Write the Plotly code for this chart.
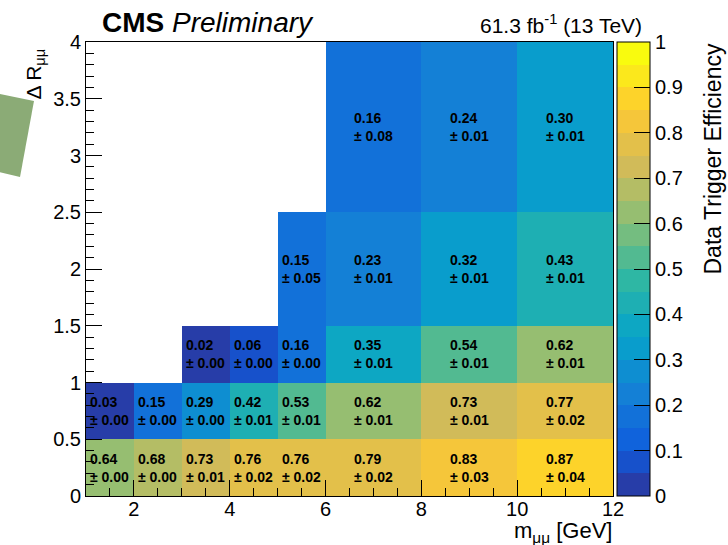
import numpy as np
import plotly.graph_objects as go

# ---- data ----
x_edges = [1, 2, 3, 4, 5, 6, 8, 10, 12]
y_edges = [0, 0.5, 1, 1.5, 2.5, 4]
eff = [
    [0.64, 0.68, 0.73, 0.76, 0.76, 0.79, 0.83, 0.87],
    [0.03, 0.15, 0.29, 0.42, 0.53, 0.62, 0.73, 0.77],
    [None, None, 0.02, 0.06, 0.16, 0.35, 0.54, 0.62],
    [None, None, None, None, 0.15, 0.23, 0.32, 0.43],
    [None, None, None, None, None, 0.16, 0.24, 0.30],
]
err = [
    [0.00, 0.00, 0.01, 0.02, 0.02, 0.02, 0.03, 0.04],
    [0.00, 0.00, 0.00, 0.01, 0.01, 0.01, 0.01, 0.02],
    [None, None, 0.00, 0.00, 0.00, 0.01, 0.01, 0.01],
    [None, None, None, None, 0.05, 0.01, 0.01, 0.01],
    [None, None, None, None, None, 0.08, 0.01, 0.01],
]

# ---- ROOT kBird palette, 20 contour bands ----
stops = [0.0, 0.125, 0.25, 0.375, 0.5, 0.625, 0.75, 0.875, 1.0]
red = [0.2082, 0.0592, 0.0780, 0.0232, 0.1802, 0.5301, 0.8186, 0.9956, 0.9764]
green = [0.1664, 0.3599, 0.5041, 0.6419, 0.7178, 0.7492, 0.7328, 0.7862, 0.9832]
blue = [0.5293, 0.8684, 0.8385, 0.7914, 0.6425, 0.4662, 0.3499, 0.1968, 0.0539]
nb = 20
cs = []
for i in range(nb):
    p = int((i + 0.99) * 255 / nb) / 254.0
    p = min(p, 1.0)
    r = np.interp(p, stops, red) * 255
    g = np.interp(p, stops, green) * 255
    b = np.interp(p, stops, blue) * 255
    col = f"rgb({r:.0f},{g:.0f},{b:.0f})"
    cs.append([i / nb, col])
    cs.append([(i + 1) / nb, col])

FONT = "Liberation Sans, Arial, Helvetica, sans-serif"

W, H = 728, 545
L, R, T, B = 86, 613, 42, 496
pw, ph = R - L, B - T

def px(x):
    return (x - L) / pw

def py(y):
    return (B - y) / ph

fig = go.Figure()
fig.add_trace(go.Heatmap(
    x=x_edges, y=y_edges, z=eff,
    zmin=0, zmax=1, colorscale=cs,
    hoverongaps=False,
    colorbar=dict(
        x=px(617), xanchor="left", xpad=0,
        y=0.5, yanchor="middle", len=1, lenmode="fraction", ypad=0,
        thickness=33, outlinewidth=1, outlinecolor="black",
        tickmode="linear", tick0=0, dtick=0.1,
        ticks="inside", ticklen=16, tickwidth=1, tickcolor="black",
        tickfont=dict(family=FONT, size=20, color="black"),
    ),
))

annotations = []
for j in range(len(y_edges) - 1):
    for i in range(len(x_edges) - 1):
        v = eff[j][i]
        if v is None:
            continue
        xc = 0.5 * (x_edges[i] + x_edges[i + 1])
        yc = 0.5 * (y_edges[j] + y_edges[j + 1])
        annotations.append(dict(
            x=xc, y=yc, xref="x", yref="y",
            text=f"<b>{v:.2f}<br>± {err[j][i]:.2f}</b>",
            showarrow=False, align="left",
            xanchor="center", yanchor="middle",
            font=dict(family=FONT, size=14, color="black"),
        ))

annotations += [
    dict(x=px(100), y=py(22), xref="paper", yref="paper",
         text="<b>CMS</b> <i>Preliminary</i>", showarrow=False,
         xanchor="left", yanchor="middle",
         font=dict(family=FONT, size=28, color="black")),
    dict(x=px(644), y=py(24), xref="paper", yref="paper",
         text="61.3 fb<sup>-1</sup> (13 TeV)", showarrow=False,
         xanchor="right", yanchor="middle",
         font=dict(family=FONT, size=21, color="black")),
    dict(x=1, y=py(547), xref="paper", yref="paper",
         text="m<sub>μμ</sub> [GeV]", showarrow=False,
         xanchor="right", yanchor="bottom", borderpad=0,
         font=dict(family=FONT, size=22, color="black")),
    dict(x=px(35), y=py(47), xref="paper", yref="paper",
         text="Δ R<sub>μμ</sub>", showarrow=False, textangle=-90,
         xanchor="center", yanchor="top",
         font=dict(family=FONT, size=21, color="black")),
    dict(x=px(712), y=1, xref="paper", yref="paper",
         text="Data Trigger Efficiency", showarrow=False, textangle=-90,
         xanchor="center", yanchor="top",
         font=dict(family=FONT, size=23, color="black")),
]

# rotated green patch at far left
def pp(a, b):
    return f"{px(a):.4f},{py(b):.4f}"

green_path = "M " + " L ".join([pp(-10, 92), pp(34, 101), pp(20, 177), pp(-10, 170)]) + " Z"

fig.update_layout(
    width=W, height=H,
    margin=dict(l=L, r=W - R, t=T, b=H - B, pad=0),
    paper_bgcolor="white", plot_bgcolor="white",
    font=dict(family=FONT, size=20, color="black"),
    annotations=annotations,
    shapes=[dict(type="path", path=green_path, xref="paper", yref="paper",
                 fillcolor="rgb(139,171,118)", line=dict(width=0), layer="above")],
    xaxis=dict(
        range=[1, 12], tickmode="linear", tick0=0, dtick=2,
        ticks="inside", ticklen=16, tickwidth=1, tickcolor="black",
        minor=dict(ticks="inside", ticklen=8, dtick=0.5, tick0=0, tickcolor="black", showgrid=False),
        showgrid=False, zeroline=False,
        showline=True, linecolor="black", linewidth=1, mirror=True,
        tickfont=dict(family=FONT, size=20, color="black"),
        ticklabelstandoff=-5,
    ),
    yaxis=dict(
        range=[0, 4], tickmode="linear", tick0=0, dtick=0.5,
        ticks="inside", ticklen=16, tickwidth=1, tickcolor="black",
        minor=dict(ticks="inside", ticklen=8, dtick=0.1, tick0=0, tickcolor="black", showgrid=False),
        showgrid=False, zeroline=False,
        showline=True, linecolor="black", linewidth=1, mirror=True,
        tickfont=dict(family=FONT, size=20, color="black"),
    ),
)

fig.write_html("out.html")
